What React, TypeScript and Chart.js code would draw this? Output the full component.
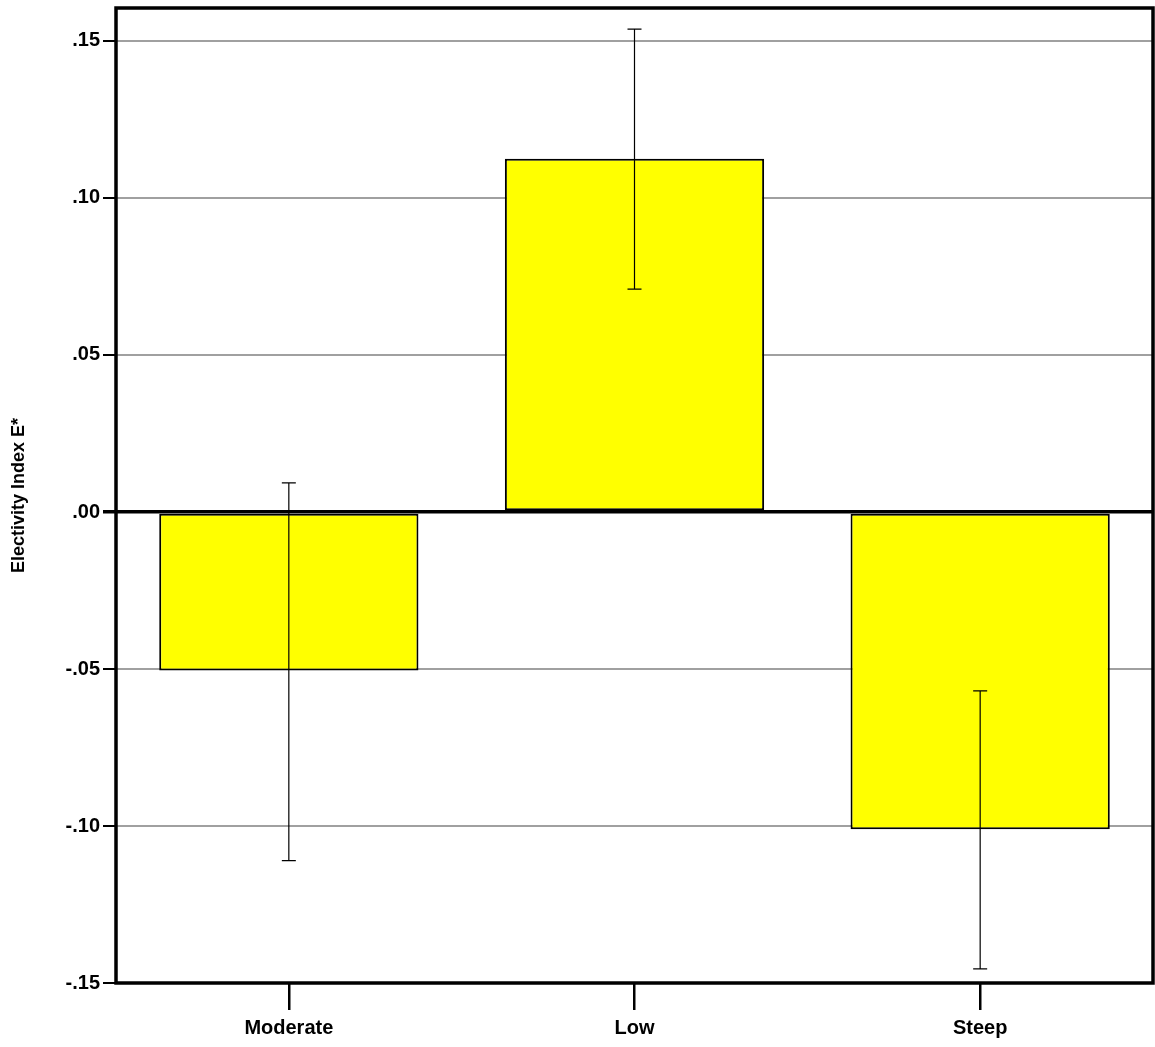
import { useEffect, useRef } from "react";
import Chart from "chart.js/auto";

const categories = ["Moderate", "Low", "Steep"];
const means = [-0.0505, 0.1125, -0.101];
const errHigh = [0.0093, 0.1538, -0.057];
const errLow = [-0.111, 0.071, -0.1455];
const yTicks = [-0.15, -0.1, -0.05, 0, 0.05, 0.1, 0.15];

const fmt = (v: number) => {
  const s = Math.abs(v).toFixed(2).replace(/^0/, "");
  return v < -1e-9 ? "-" + s : s;
};

const errorBars = {
  id: "errorBars",
  afterDatasetsDraw(chart: any) {
    const { ctx, scales } = chart;
    const meta = chart.getDatasetMeta(0);
    ctx.save();
    ctx.strokeStyle = "#000";
    ctx.lineWidth = 1.2;
    meta.data.forEach((bar: any, i: number) => {
      const x = bar.x;
      const yt = scales.y.getPixelForValue(errHigh[i]);
      const yb = scales.y.getPixelForValue(errLow[i]);
      ctx.beginPath();
      ctx.moveTo(x, yt); ctx.lineTo(x, yb);
      ctx.moveTo(x - 7, yt); ctx.lineTo(x + 7, yt);
      ctx.moveTo(x - 7, yb); ctx.lineTo(x + 7, yb);
      ctx.stroke();
    });
    const a = chart.chartArea;
    ctx.lineWidth = 3.5;
    ctx.strokeRect(a.left, a.top, a.right - a.left, a.bottom - a.top);
    ctx.restore();
  },
};

export default function App() {
  const canvasRef = useRef<HTMLCanvasElement>(null);

  useEffect(() => {
    document.body.style.margin = "0";
    if (!canvasRef.current) return;
    const chart = new Chart(canvasRef.current, {
      type: "bar",
      data: {
        labels: categories,
        datasets: [{
          data: means,
          backgroundColor: "#ffff00",
          borderColor: "#000",
          borderWidth: 2,
          borderSkipped: false,
          barPercentage: 0.75,
          categoryPercentage: 1,
        }],
      },
      options: {
        responsive: false,
        animation: false,
        layout: { padding: { top: 8, right: 2, left: 0, bottom: 0 } },
        plugins: { legend: { display: false }, tooltip: { enabled: false } },
        scales: {
          x: {
            offset: true,
            afterFit: (s: any) => { s.height = 64; },
            border: { display: false },
            grid: { offset: false, drawOnChartArea: false, color: "#000", lineWidth: 2.5, tickLength: 27 },
            ticks: { color: "#000", padding: 6, font: { family: "Liberation Sans", weight: "bold", size: 20 } },
          },
          y: {
            min: -0.15,
            max: 0.1605,
            afterFit: (s: any) => { s.width = 116; s.paddingTop = 0; s.paddingBottom = 0; },
            afterBuildTicks: (s: any) => { s.ticks = yTicks.map(v => ({ value: v })); },
            border: { display: false },
            grid: {
              color: (c: any) => (c.tick && Math.abs(c.tick.value) < 1e-9 ? "#000" : "#a0a0a0"),
              lineWidth: (c: any) => (c.tick && Math.abs(c.tick.value) < 1e-9 ? 3.5 : 2),
              tickColor: "#000",
              tickLength: 13,
            },
            ticks: {
              color: "#000",
              padding: 3,
              font: { family: "Liberation Sans", weight: "bold", size: 20 },
              callback: (v: any) => fmt(Number(v)),
            },
            title: {
              display: true,
              text: "Electivity Index E*",
              color: "#000",
              font: { family: "Liberation Sans", weight: "bold", size: 18 },
              padding: { top: 8, bottom: 0 },
            },
          },
        },
      },
      plugins: [errorBars],
    });
    return () => chart.destroy();
  }, []);

  return (
    <div style={{ width: 1155, height: 1047, background: "#fff" }}>
      <canvas ref={canvasRef} width={1155} height={1047} />
    </div>
  );
}
